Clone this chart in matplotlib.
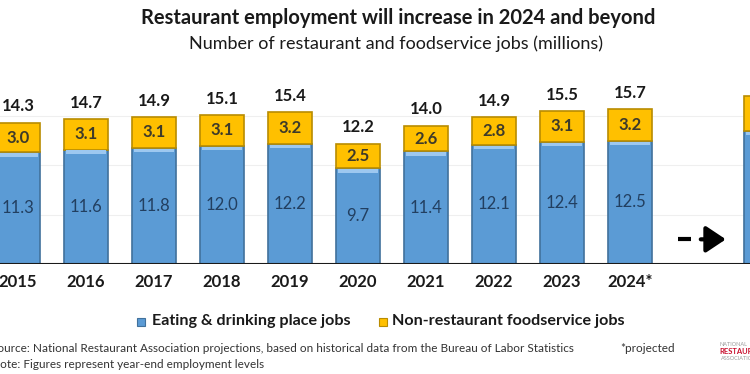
import matplotlib
matplotlib.use("Agg")
import matplotlib.pyplot as plt
from matplotlib.patches import FancyArrowPatch

plt.rcParams['font.family'] = ['Lato', 'DejaVu Sans']

years = ["2015", "2016", "2017", "2018", "2019", "2020", "2021", "2022", "2023", "2024*", "", "2034*"]
eating = [11.3, 11.6, 11.8, 12.0, 12.2, 9.7, 11.4, 12.1, 12.4, 12.5, None, 13.5]
nonrest = [3.0, 3.1, 3.1, 3.1, 3.2, 2.5, 2.6, 2.8, 3.1, 3.2, None, 3.5]
totals = [14.3, 14.7, 14.9, 15.1, 15.4, 12.2, 14.0, 14.9, 15.5, 15.7, None, 17.0]

BLUE = "#5B9BD5"
BLUE_EDGE = "#41719C"
BLUE_TOP = "#9DC8F0"
GOLD = "#FFC000"
GOLD_EDGE = "#B98C00"

W, H = 750, 374
fig = plt.figure(figsize=(7.5, 3.74), dpi=100)
ax = fig.add_axes([0, 110 / H, 1, 197.4 / H])

for v in (5, 10, 15):
    ax.axhline(v, color="#EFEFEF", lw=0.8, zorder=0)

width = 0.65
for i, (e, n, t) in enumerate(zip(eating, nonrest, totals)):
    if e is None:
        continue
    ax.bar(i, e, width, color=BLUE, edgecolor=BLUE_EDGE, linewidth=1.2, zorder=2)
    ax.bar(i, 0.35, width * 0.92, bottom=e - 0.45, color=BLUE_TOP, linewidth=0, zorder=3)
    ax.bar(i, n, width, bottom=e, color=GOLD, edgecolor=GOLD_EDGE, linewidth=1.2, zorder=2)
    ax.text(i, e / 2, f"{e:.1f}", ha="center", va="center", fontsize=12,
            color="#223f60", zorder=4)
    ax.text(i, e + n / 2, f"{n:.1f}", ha="center", va="center", fontsize=12,
            fontweight="bold", color="#3d3a2a", zorder=4)
    ax.text(i, t + 0.85, f"{t:.1f}", ha="center", va="bottom", fontsize=12,
            fontweight="bold", color="#1a1a1a", zorder=4)

ax.axhline(0, color="#1a1a1a", lw=1.5, zorder=5)

# arrow
ax.plot([9.7, 9.9], [2.5, 2.5], color="black", lw=3, solid_capstyle="butt")
arr = FancyArrowPatch((10.0, 2.5), (10.45, 2.5), arrowstyle="-|>,head_length=6,head_width=4",
                      mutation_scale=2, color="black", lw=3)
ax.add_patch(arr)

ax.set_xticks(range(len(years)))
ax.set_xticklabels(years, fontsize=12, fontweight="bold", color="#1a1a1a")
ax.tick_params(axis="x", length=0, pad=7)
ax.set_yticks([])
for s in ax.spines.values():
    s.set_visible(False)
ax.set_xlim(-18 / 68, (750 - 18) / 68)
ax.set_ylim(0, 20)

fig.text(398 / W, 1 - 18 / H, "Restaurant employment will increase in 2024 and beyond",
         ha="center", va="center", fontsize=14.5, fontweight="bold", color="#1a1a1a")
fig.text(396 / W, 1 - 44 / H, "Number of restaurant and foodservice jobs (millions)",
         ha="center", va="center", fontsize=13, color="#1a1a1a")

# legend
fig.patches.append(plt.Rectangle((137 / W, 1 - 326 / H), 8 / W, 8 / H, transform=fig.transFigure,
                                 facecolor=BLUE, edgecolor=BLUE_EDGE, lw=0.8))
fig.text(152 / W, 1 - 321 / H, "Eating & drinking place jobs", ha="left", va="center",
         fontsize=11.6, fontweight="bold", color="#1a1a1a")
fig.patches.append(plt.Rectangle((379 / W, 1 - 326 / H), 8 / W, 8 / H, transform=fig.transFigure,
                                 facecolor=GOLD, edgecolor=GOLD_EDGE, lw=0.8))
fig.text(392 / W, 1 - 321 / H, "Non-restaurant foodservice jobs", ha="left", va="center",
         fontsize=11.6, fontweight="bold", color="#1a1a1a")

fig.text(-9 / W, 1 - 349 / H,
         "Source: National Restaurant Association projections, based on historical data from the Bureau of Labor Statistics",
         ha="left", va="center", fontsize=8.5, color="#333333")
fig.text(620 / W, 1 - 349 / H, "*projected", ha="left", va="center", fontsize=8.5, color="#333333")
fig.text(-9 / W, 1 - 365 / H, "Note: Figures represent year-end employment levels",
         ha="left", va="center", fontsize=8.5, color="#333333")

fig.text(720 / W, 1 - 345 / H, "NATIONAL", ha="left", va="center", fontsize=4, color="#9a9a9a")
fig.text(719 / W, 1 - 352 / H, "RESTAURANT", ha="left", va="center", fontsize=5.5,
         fontweight="bold", color="#C8102E")
fig.text(721 / W, 1 - 359 / H, "ASSOCIATION", ha="left", va="center", fontsize=4, color="#9a9a9a")

fig.savefig("out.png", dpi=100, facecolor="white")
